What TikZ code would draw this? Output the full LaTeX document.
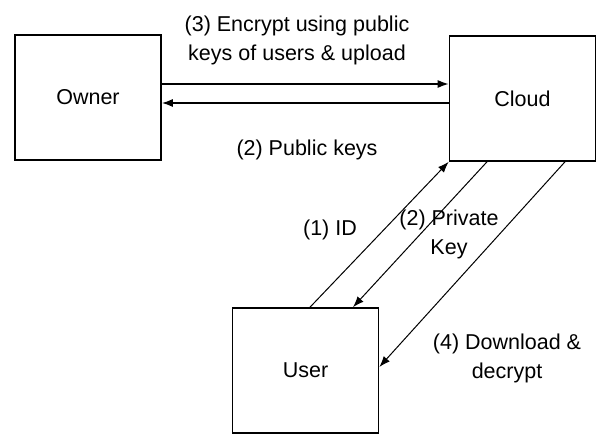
\documentclass[tikz,border=0pt]{standalone}
\usepackage{fontspec}
\setmainfont{Liberation Sans}
\usetikzlibrary{arrows.meta}
\begin{document}
\begin{tikzpicture}[
      x=1pt,y=-1pt,
      >={Latex[length=11pt,width=8pt]},
      box/.style={
        draw,rectangle,line width=1.6pt,minimum width=146pt,minimum height=125pt,inner sep=0pt
      },
      lbl/.style={
        align=center,font=\fontsize{21.5}{29}\selectfont
      },
    ]
    \useasboundingbox (0,0) rectangle (597,436);
    \node[box,lbl] (owner) at (88,97.5) {Owner};
    \node[box,lbl] (cloud) at (522.5,98.5) {Cloud};
    \node[box,lbl] (user) at (305.5,370.5) {User};
    \draw[line width=1.5pt,->] (owner.east |- 0,84) -- (cloud.west |- 0,84);
    \draw[line width=1.5pt,->] (cloud.west |- 0,103) -- (owner.east |- 0,103);
    \draw[line width=1pt,->] (310,0 |- user.north) -- (cloud.south west);
    \draw[line width=1pt,->] (487,0 |- cloud.south) -- (353,0 |- user.north);
    \draw[line width=1pt,->] (565,0 |- cloud.south) -- (user.east |- 0,367);
    \node[lbl] (encrypt) at (297,40) {(3) Encrypt using public\\keys of users \& upload};
    \node[lbl] (pubkeys) at (307,150) {(2) Public keys};
    \node[lbl] (id) at (330,230) {(1) ID};
    \node[lbl] (privkey) at (449,234) {(2) Private\\Key};
    \node[lbl] (download) at (507,358) {(4) Download \&\\decrypt};
  \end{tikzpicture}
\end{document}
